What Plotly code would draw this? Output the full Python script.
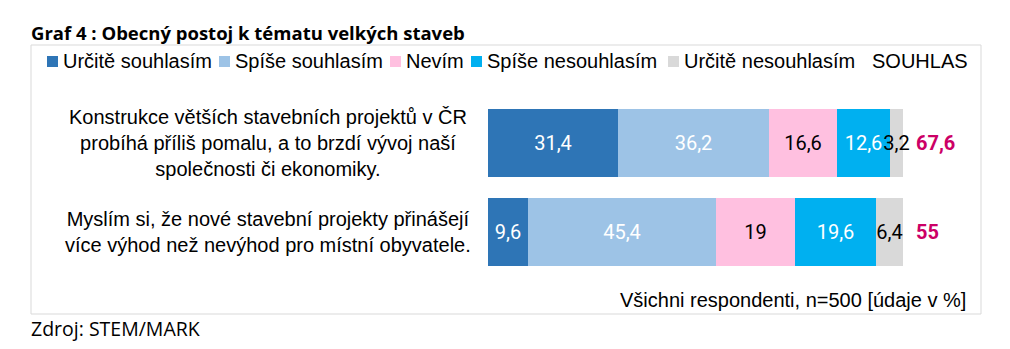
import plotly.graph_objects as go

W, H = 1010, 349

categories = [
    "Konstrukce větších stavebních projektů v ČR<br>probíhá příliš pomalu, a to brzdí vývoj naší<br>společnosti či ekonomiky.",
    "Myslím si, že nové stavební projekty přinášejí<br>více výhod než nevýhod pro místní obyvatele.",
]
series_names = ["Určitě souhlasím", "Spíše souhlasím", "Nevím", "Spíše nesouhlasím", "Určitě nesouhlasím"]
values = [
    [31.4, 9.6],
    [36.2, 45.4],
    [16.6, 19.0],
    [12.6, 19.6],
    [3.2, 6.4],
]
souhlas = [67.6, 55]
colors = ["#2E75B6", "#9DC3E6", "#FFC0E0", "#00B0F0", "#D9D9D9"]
text_colors = ["white", "white", "black", "white", "black"]


def px(x):
    return x / W


def py(y):
    return 1 - y / H


def fmt(v):
    s = ("%.1f" % v).rstrip("0").rstrip(".")
    return s.replace(".", ",")


fig = go.Figure()
ykeys = [0, 1]
for name, vals, col, tcol in zip(series_names, values, colors, text_colors):
    fig.add_trace(go.Bar(
        name=name, orientation="h", x=vals, y=ykeys,
        marker=dict(color=col, line=dict(width=0)),
        width=0.77,
        text=[fmt(v) for v in vals], textposition="inside", insidetextanchor="middle",
        textangle=0, constraintext="none", cliponaxis=False,
        textfont=dict(family="Roboto", size=20, color=tcol),
        hoverinfo="skip",
    ))

annotations = []
# category labels
for yk, cat in zip(ykeys, categories):
    annotations.append(dict(
        x=px(268), xref="paper", y=yk, yref="y", text=cat, showarrow=False,
        xanchor="center", yanchor="middle", align="center",
        font=dict(family="Liberation Sans, Arial", size=20, color="#000000"),
    ))
# souhlas sums
for yk, s in zip(ykeys, souhlas):
    annotations.append(dict(
        x=100, xref="x", y=yk, yref="y", text="<b>%s</b>" % fmt(s), showarrow=False,
        xanchor="left", yanchor="middle", xshift=11,
        font=dict(family="Roboto", size=20, color="#CC0066"),
    ))

# manual legend
sq_x = [47, 219, 390, 471, 668]
shapes = []
for x0, name, col in zip(sq_x, series_names, colors):
    shapes.append(dict(type="rect", xref="paper", yref="paper",
                       x0=px(x0), x1=px(x0 + 11), y0=py(67), y1=py(56),
                       fillcolor=col, line=dict(width=0)))
    annotations.append(dict(
        x=px(x0 + 14), xref="paper", y=py(61), yref="paper", text=name, showarrow=False,
        xanchor="left", yanchor="middle",
        font=dict(family="Liberation Sans, Arial", size=20, color="#000000"),
    ))
annotations.append(dict(
    x=px(970), xref="paper", y=py(61), yref="paper", text="SOUHLAS", showarrow=False,
    xanchor="right", yanchor="middle",
    font=dict(family="Liberation Sans, Arial", size=20, color="#000000"),
))

# chart border
shapes.append(dict(type="rect", xref="paper", yref="paper",
                   x0=px(31), x1=px(981), y0=py(314), y1=py(45),
                   line=dict(color="#D9D9D9", width=1), fillcolor="rgba(0,0,0,0)", layer="below"))

# title, note, source
annotations.append(dict(
    x=px(29), xref="paper", y=py(32), yref="paper",
    text="<b>Graf 4 : Obecný postoj k tématu velkých staveb</b>", showarrow=False,
    xanchor="left", yanchor="middle",
    font=dict(family="Open Sans, Lato", size=18.5, color="#000000"),
))
annotations.append(dict(
    x=px(968), xref="paper", y=py(300), yref="paper",
    text="Všichni respondenti, n=500 [údaje v %]", showarrow=False,
    xanchor="right", yanchor="middle",
    font=dict(family="Liberation Sans Narrow, Arial Narrow, Liberation Sans", size=20, color="#000000"),
))
annotations.append(dict(
    x=px(29), xref="paper", y=py(328), yref="paper",
    text="Zdroj: STEM/MARK", showarrow=False,
    xanchor="left", yanchor="middle",
    font=dict(family="Open Sans, Lato", size=19.5, color="#000000"),
))

fig.update_layout(
    width=W, height=H, barmode="stack", showlegend=False,
    margin=dict(l=0, r=0, t=0, b=0),
    paper_bgcolor="white", plot_bgcolor="white",
    xaxis=dict(domain=[px(488), px(903)], range=[0, 100], visible=False, fixedrange=True),
    yaxis=dict(domain=[py(276), py(99)], range=[1.5, -0.5], visible=False, fixedrange=True),
    annotations=annotations, shapes=shapes,
    bargap=0,
)

fig.write_html("out.html")
